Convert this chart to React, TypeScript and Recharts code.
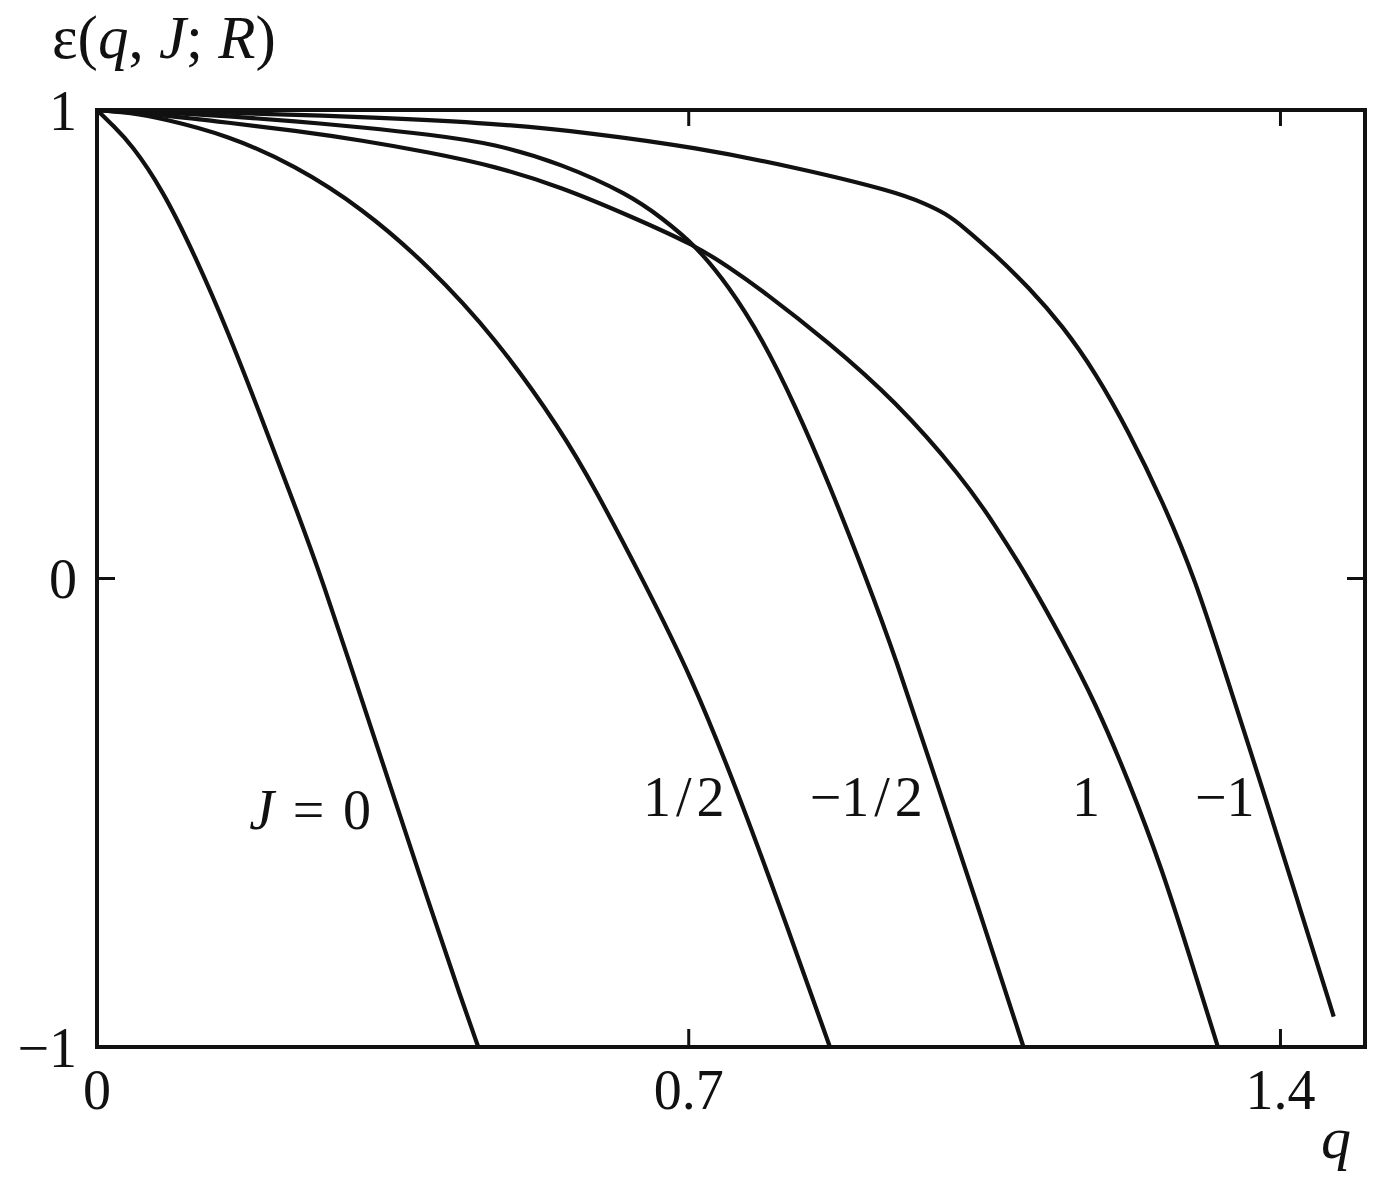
import React from "react";
import { LineChart, Line, XAxis, YAxis, ReferenceDot } from "recharts";

// curves, one per J value
const curveJ0 = [
  { q: 0, e: 1 }, { q: 0.02, e: 0.965 }, { q: 0.04, e: 0.928 }, { q: 0.077, e: 0.832 },
  { q: 0.116, e: 0.689 }, { q: 0.155, e: 0.527 }, { q: 0.195, e: 0.341 }, { q: 0.234, e: 0.156 },
  { q: 0.266, e: 0 }, { q: 0.314, e: -0.263 }, { q: 0.353, e: -0.476 }, { q: 0.392, e: -0.69 },
  { q: 0.432, e: -0.903 }, { q: 0.451, e: -1 },
];

const curveJHalf = [
  { q: 0, e: 1 }, { q: 0.04, e: 0.994 }, { q: 0.077, e: 0.982 }, { q: 0.155, e: 0.946 },
  { q: 0.234, e: 0.882 }, { q: 0.314, e: 0.79 }, { q: 0.392, e: 0.668 }, { q: 0.471, e: 0.515 },
  { q: 0.55, e: 0.314 }, { q: 0.589, e: 0.192 }, { q: 0.645, e: 0 }, { q: 0.704, e: -0.213 },
  { q: 0.755, e: -0.442 }, { q: 0.806, e: -0.69 }, { q: 0.867, e: -1 },
];

const curveJMinusHalf = [
  { q: 0, e: 1 }, { q: 0.08, e: 0.995 }, { q: 0.155, e: 0.987 }, { q: 0.234, e: 0.976 },
  { q: 0.314, e: 0.963 }, { q: 0.392, e: 0.948 }, { q: 0.471, e: 0.928 }, { q: 0.55, e: 0.885 },
  { q: 0.629, e: 0.82 }, { q: 0.668, e: 0.77 }, { q: 0.708, e: 0.711 }, { q: 0.747, e: 0.625 },
  { q: 0.787, e: 0.512 }, { q: 0.826, e: 0.369 }, { q: 0.865, e: 0.207 }, { q: 0.91, e: 0 },
  { q: 0.944, e: -0.165 }, { q: 0.995, e: -0.445 }, { q: 1.043, e: -0.705 }, { q: 1.096, e: -1 },
];

const curveJOne = [
  { q: 0, e: 1 }, { q: 0.08, e: 0.989 }, { q: 0.155, e: 0.973 }, { q: 0.234, e: 0.956 },
  { q: 0.314, e: 0.935 }, { q: 0.392, e: 0.91 }, { q: 0.471, e: 0.88 }, { q: 0.55, e: 0.835 },
  { q: 0.629, e: 0.775 }, { q: 0.708, e: 0.711 }, { q: 0.747, e: 0.665 }, { q: 0.787, e: 0.615 },
  { q: 0.865, e: 0.505 }, { q: 0.944, e: 0.38 }, { q: 1.024, e: 0.215 }, { q: 1.062, e: 0.115 },
  { q: 1.102, e: 0 }, { q: 1.142, e: -0.13 }, { q: 1.181, e: -0.265 }, { q: 1.22, e: -0.43 },
  { q: 1.26, e: -0.62 }, { q: 1.295, e: -0.82 }, { q: 1.326, e: -1 },
];

const curveJMinusOne = [
  { q: 0, e: 1 }, { q: 0.1, e: 0.997 }, { q: 0.234, e: 0.99 }, { q: 0.314, e: 0.985 },
  { q: 0.471, e: 0.972 }, { q: 0.589, e: 0.95 }, { q: 0.708, e: 0.92 }, { q: 0.826, e: 0.878 },
  { q: 0.944, e: 0.826 }, { q: 0.98, e: 0.8 }, { q: 1.004, e: 0.779 }, { q: 1.024, e: 0.752 },
  { q: 1.062, e: 0.692 }, { q: 1.102, e: 0.622 }, { q: 1.142, e: 0.54 }, { q: 1.181, e: 0.44 },
  { q: 1.22, e: 0.315 }, { q: 1.26, e: 0.167 }, { q: 1.299, e: 0 }, { q: 1.338, e: -0.22 },
  { q: 1.379, e: -0.45 }, { q: 1.418, e: -0.675 }, { q: 1.463, e: -0.935 },
];

const allCurves = [curveJ0, curveJHalf, curveJMinusHalf, curveJOne, curveJMinusOne];

const xTicks = [0, 0.7, 1.4];
const yTicks = [-1, 0, 1];
const frameXTicks = [0.7, 1.4];
const frameYTicks = [0];

// curve labels, anchored at the middle of their baseline
const curveLabels = [
  { q: 0.252, e: -0.534, parts: [{ t: "J", i: true }, { t: "\u2004=\u20040" }] },
  { q: 0.694, e: -0.508, parts: [{ t: "1" }, { t: "/", dx: 5 }, { t: "2", dx: 5 }] },
  { q: 0.91, e: -0.508, parts: [{ t: "\u22121" }, { t: "/", dx: 5 }, { t: "2", dx: 5 }] },
  { q: 1.17, e: -0.508, parts: [{ t: "1" }] },
  { q: 1.334, e: -0.508, parts: [{ t: "\u22121" }] },
];

const ink = "#111";
const serif = "'Liberation Serif', 'Times New Roman', serif";
const fontSize = 56;

const fmt = (v: number) => (v < 0 ? "\u2212" + String(-v) : String(v));

function CurveLabel(props: any) {
  const { viewBox, parts } = props;
  const cx = viewBox.x + viewBox.width / 2;
  const cy = viewBox.y + viewBox.height / 2;
  return (
    <text x={cx} y={cy} textAnchor="middle" fill={ink} fontFamily={serif} fontSize={fontSize}>
      {parts.map((p: any, k: number) => (
        <tspan key={k} dx={p.dx || 0} fontStyle={p.i ? "italic" : "normal"}>{p.t}</tspan>
      ))}
    </text>
  );
}

function YTitle(props: any) {
  const vb = props.viewBox;
  return (
    <text x={vb.x + 52} y={vb.y - 52} fill={ink} fontFamily={serif} fontSize={61}>
      <tspan>ε(</tspan>
      <tspan fontStyle="italic">q</tspan>
      <tspan>, </tspan>
      <tspan fontStyle="italic">J</tspan>
      <tspan>; </tspan>
      <tspan fontStyle="italic">R</tspan>
      <tspan>)</tspan>
    </text>
  );
}

function XTitle(props: any) {
  const vb = props.viewBox;
  return (
    <text x={vb.x + vb.width - 44} y={vb.y + 111} fill={ink} fontFamily={serif} fontSize={60} fontStyle="italic">
      q
    </text>
  );
}

// frame axes keep their tick marks but show no numbers
const NoLabel = () => <g />;

export default function App() {
  const axisLine = { stroke: ink, strokeWidth: 4, strokeLinecap: "square" as const };
  const tickLine = { stroke: ink, strokeWidth: 3 };
  const tickText = { fill: ink, fontSize, fontFamily: serif };

  return (
    <div style={{ position: "absolute", left: 0, top: 0, width: 1385, height: 1181, background: "#fff" }}>
      <LineChart width={1385} height={1181} margin={{ top: 109, right: 19, bottom: 0, left: 0 }}>
        <XAxis
          xAxisId="b"
          dataKey="q"
          type="number"
          domain={[0, 1.5]}
          ticks={xTicks}
          interval={0}
          allowDataOverflow
          height={134}
          tickSize={-18}
          tickMargin={40}
          axisLine={axisLine}
          tickLine={tickLine}
          tick={tickText}
          tickFormatter={fmt}
          label={{ content: (p: any) => <XTitle {...p} /> }}
        />
        <XAxis
          xAxisId="t"
          orientation="top"
          dataKey="q"
          type="number"
          domain={[0, 1.5]}
          ticks={frameXTicks}
          interval={0}
          allowDataOverflow
          height={1}
          tickSize={-16}
          axisLine={axisLine}
          tickLine={tickLine}
          tick={NoLabel}
        />
        <YAxis
          yAxisId="l"
          type="number"
          domain={[-1, 1]}
          ticks={yTicks}
          interval={0}
          allowDataOverflow
          width={97}
          tickSize={-18}
          tickMargin={38}
          axisLine={axisLine}
          tickLine={tickLine}
          tick={tickText}
          tickFormatter={fmt}
          label={{ content: (p: any) => <YTitle {...p} /> }}
        />
        <YAxis
          yAxisId="r"
          orientation="right"
          type="number"
          domain={[-1, 1]}
          ticks={frameYTicks}
          interval={0}
          allowDataOverflow
          width={1}
          tickSize={-18}
          axisLine={axisLine}
          tickLine={tickLine}
          tick={NoLabel}
        />
        {/* invisible series so the frame axes get a domain */}
        <Line
          xAxisId="t"
          yAxisId="r"
          data={curveJ0}
          dataKey="e"
          stroke="none"
          dot={false}
          activeDot={false}
          legendType="none"
          isAnimationActive={false}
        />
        {allCurves.map((c, k) => (
          <Line
            key={k}
            xAxisId="b"
            yAxisId="l"
            data={c}
            dataKey="e"
            type="basis"
            stroke={ink}
            strokeWidth={4.2}
            dot={false}
            activeDot={false}
            isAnimationActive={false}
          />
        ))}
        {curveLabels.map((l, k) => (
          <ReferenceDot
            key={"lab" + k}
            xAxisId="b"
            yAxisId="l"
            x={l.q}
            y={l.e}
            r={0}
            fill="none"
            stroke="none"
            label={{ content: (p: any) => <CurveLabel {...p} parts={l.parts} /> }}
          />
        ))}
      </LineChart>
    </div>
  );
}
